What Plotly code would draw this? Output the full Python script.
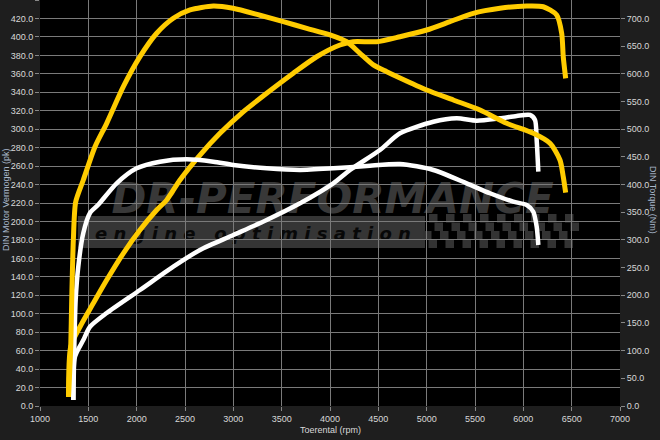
import plotly.graph_objects as go

# ---------------- data ----------------
# Tuned (yellow) power, pk
tuned_power_rpm = [1295, 1318, 1414, 1551, 1690, 1862, 2034, 2207, 2311, 2448, 2655, 2862, 3087, 3345,
                   3620, 3862, 4103, 4241, 4483, 4724, 5000, 5241, 5482, 5759, 6035, 6206, 6345, 6397,
                   6413, 6438]
tuned_power_pk = [9.8, 64.3, 85.9, 111.3, 136.5, 165.5, 190.7, 212.4, 223.3, 245.0, 272.0, 295.5, 317.5, 338.9,
                  360.6, 378.5, 391.2, 394.8, 394.8, 400.2, 407.5, 416.5, 425.6, 431.0, 433.5, 432.7, 423.8, 403.9,
                  378.5, 355.1]

# Tuned (yellow) torque, Nm
tuned_torque_rpm = [1295, 1318, 1328, 1345, 1369, 1448, 1569, 1690, 1862, 2034, 2207, 2379, 2552, 2793,
                    2997, 3276, 3517, 3759, 4000, 4173, 4310, 4448, 4587, 4724, 5000, 5276, 5552, 5828,
                    6103, 6276, 6379, 6413, 6438]
tuned_torque_nm = [16.3, 106.6, 191.5, 299.8, 368.5, 408.2, 468.3, 510.6, 576.7, 630.9, 673.2, 700.3, 715.3, 722.5,
                   718.3, 705.7, 694.1, 682.2, 670.4, 658.0, 637.0, 616.0, 603.8, 592.4, 570.7, 552.7, 534.6, 510.6,
                   492.5, 474.5, 444.3, 414.1, 385.2]

# Stock (white) power, pk
stock_power_rpm = [1345, 1362, 1448, 1517, 1690, 2034, 2379, 2655, 3000, 3345, 3690, 4034, 4207, 4517,
                   4724, 5069, 5311, 5518, 5759, 5931, 6069, 6121, 6138, 6155]
stock_power_pk = [6.5, 53.4, 71.5, 85.9, 100.8, 125.7, 151.0, 169.1, 185.3, 201.6, 219.7, 241.3, 255.8, 277.4,
                  295.5, 308.1, 311.8, 309.2, 311.8, 314.3, 315.4, 309.9, 288.3, 254.0]

# Stock (white) torque, Nm
stock_torque_rpm = [1345, 1352, 1369, 1396, 1448, 1517, 1600, 1793, 2000, 2241, 2518, 2793, 3000, 3345,
                    3690, 4034, 4380, 4724, 5069, 5414, 5655, 5896, 6035, 6103, 6138, 6155]
stock_torque_nm = [10.8, 83.1, 191.5, 251.6, 312.5, 348.6, 363.0, 402.2, 429.3, 441.3, 445.6, 441.3, 435.3, 429.3,
                   426.3, 429.3, 433.5, 437.1, 426.3, 402.2, 384.2, 369.0, 363.0, 350.9, 323.9, 290.8]

x_range = [1000, 7000]
power_range = [0, 440]
torque_range = [0, 733.3]

YELLOW = "#FFCC00"
WHITE = "#FFFFFF"
FONT = "Liberation Sans"

fig = go.Figure()

line_common = dict(shape="spline", smoothing=0.7)
fig.add_trace(go.Scatter(x=stock_power_rpm, y=stock_power_pk, mode="lines",
                         line=dict(color=WHITE, width=4.5, **line_common), showlegend=False))
fig.add_trace(go.Scatter(x=stock_torque_rpm, y=stock_torque_nm, mode="lines", yaxis="y2",
                         line=dict(color=WHITE, width=4.5, **line_common), showlegend=False))
fig.add_trace(go.Scatter(x=tuned_power_rpm, y=tuned_power_pk, mode="lines",
                         line=dict(color=YELLOW, width=5, **line_common), showlegend=False))
fig.add_trace(go.Scatter(x=tuned_torque_rpm, y=tuned_torque_nm, mode="lines", yaxis="y2",
                         line=dict(color=YELLOW, width=5, **line_common), showlegend=False))

# ---- watermark (paper coordinates, computed from pixel layout) ----
PL, PR, PT, PB = 40, 620, 0, 406


def px(x):
    return (x - PL) / (PR - PL)


def py(y):
    return (PB - y) / (PB - PT)


shapes = []
# grey band for "engine optimisation"
shapes.append(dict(type="rect", xref="paper", yref="paper", layer="below",
                   x0=px(78), x1=px(425), y0=py(248), y1=py(216),
                   fillcolor="#353535", line=dict(width=0),
                   label=dict(text="e n g i n e   o p t i m i s a t i o n", textposition="middle left",
                              padding=14,
                              font=dict(family="DejaVu Sans", size=18, color="#080808",
                                        weight="bold", style="italic"))))
# big logo text
shapes.append(dict(type="rect", xref="paper", yref="paper", layer="below",
                   x0=px(80), x1=px(585), y0=py(214), y1=py(176),
                   fillcolor="rgba(0,0,0,0)", line=dict(width=0),
                   label=dict(text="DR-PERFORMANCE", textposition="middle center",
                              font=dict(family="DejaVu Sans", size=42, color="#383838",
                                        weight="bold", style="italic"))))
# checkered flag
sq = 8.5
for r in range(4):
    for c in range(18):
        if (r + c) % 2 == 0:
            x0 = 420 + c * sq + (3 - r) * 3
            y0 = 214 + r * sq
            shapes.append(dict(type="rect", xref="paper", yref="paper", layer="below",
                               x0=px(x0), x1=px(x0 + sq), y0=py(y0 + sq), y1=py(y0),
                               fillcolor="#333333", line=dict(width=0)))
fig.update_layout(shapes=shapes)

axis_font = dict(family=FONT, size=9, color="#d8d8d8")
GRID = "#7a7a7a"

fig.update_layout(
    width=660, height=440,
    margin=dict(l=PL, r=660 - PR, t=PT, b=440 - PB, autoexpand=False),
    paper_bgcolor="#1e1e1e",
    plot_bgcolor="#000000",
    font=dict(family=FONT, size=9, color="#d8d8d8"),
    xaxis=dict(range=x_range, dtick=500, tick0=1000, showgrid=True, gridcolor=GRID, gridwidth=1,
               zeroline=False, showline=False, ticks="outside", ticklen=4, tickcolor="#888888",
               tickfont=axis_font, automargin=False),
    yaxis=dict(range=power_range, dtick=20, tick0=0, tickformat=".1f", showgrid=True, gridcolor=GRID,
               gridwidth=1, zeroline=False, showline=False, ticks="outside", ticklen=4,
               tickcolor="#888888", tickfont=axis_font, automargin=False),
    yaxis2=dict(range=torque_range, dtick=50, tick0=0, tickformat=".1f", overlaying="y", side="right",
                showgrid=False, zeroline=False, showline=False, ticks="outside", ticklen=4,
                tickcolor="#888888", tickfont=axis_font, automargin=False),
    annotations=[
        dict(text="Toerental (rpm)", xref="paper", yref="paper", x=0.5, y=py(430),
             yanchor="middle", showarrow=False, font=dict(family=FONT, size=9, color="#d8d8d8")),
        dict(text="DIN Motor Vermogen (pk)", xref="paper", yref="paper", x=px(6), y=py(200),
             xanchor="center", yanchor="middle",
             textangle=-90, showarrow=False, font=dict(family=FONT, size=9, color="#a9b8cc")),
        dict(text="DIN Torque (Nm)", xref="paper", yref="paper", x=px(653), y=py(200),
             xanchor="center", yanchor="middle",
             textangle=90, showarrow=False, font=dict(family=FONT, size=9, color="#a9b8cc")),
    ],
)

fig.write_html("out.html", config={"displayModeBar": False},
               post_script="document.body.style.margin='0';document.body.style.background='#1e1e1e';")
